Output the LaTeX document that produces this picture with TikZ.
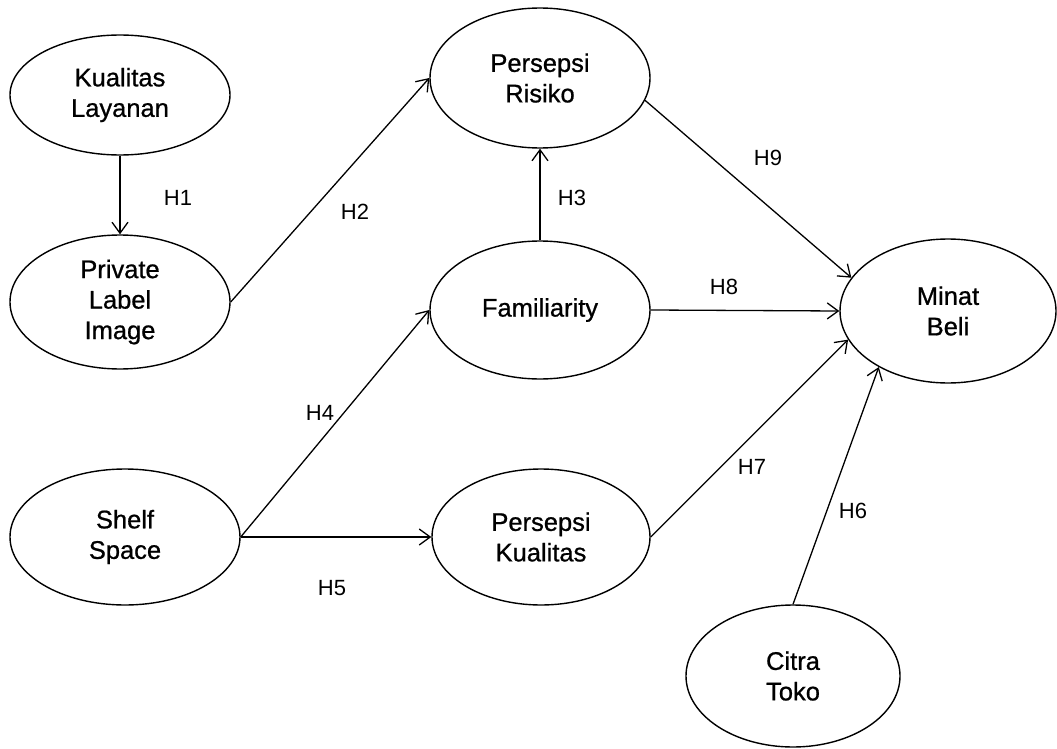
\documentclass[tikz,border=0pt]{standalone}
\usepackage{fontspec}
\setmainfont{Liberation Sans}
\newfontfamily\nodefont[FakeBold=0.8]{Liberation Sans}
\usetikzlibrary{shapes.geometric,arrows.meta}
\begin{document}
\begin{tikzpicture}[x=1pt,y=-1pt,
  var/.style={ellipse,draw,line width=1.4pt,inner sep=0pt,align=center,
    font=\nodefont\fontsize{25.5}{30.5}\selectfont},
  link/.style={draw,line width=1.3pt,-{Straight Barb[length=11pt,width=16pt,line width=1.3pt]}},
  hlab/.style={font=\fontsize{22}{26}\selectfont}]
\useasboundingbox (0,0) rectangle (1057,749);
\node[var,minimum width=220pt,minimum height=120pt] (kl) at (120,95) {Kualitas\\Layanan};
\node[var,minimum width=220pt,minimum height=134pt] (pli) at (120,302) {Private\\Label\\Image};
\node[var,minimum width=220pt,minimum height=140pt] (pr) at (540,78) {Persepsi\\Risiko};
\node[var,minimum width=220pt,minimum height=138pt] (fam) at (540,310) {Familiarity};
\node[var,minimum width=216pt,minimum height=144pt] (mb) at (948,311) {Minat\\Beli};
\node[var,minimum width=230pt,minimum height=136pt] (ss) at (125,537) {Shelf\\Space};
\node[var,minimum width=218pt,minimum height=136pt] (pk) at (541,537) {Persepsi\\Kualitas};
\node[var,minimum width=214pt,minimum height=142pt] (ct) at (793,676) {Citra\\Toko};
\draw[link] (kl.south) -- (pli.north);
\draw[link] (pli.east) -- (pr.west);
\draw[link] (fam.north) -- (pr.south);
\draw[link] (pr.-12) -- (mb.161);
\draw[link] (fam.east) -- (mb.west);
\draw[link] (ss.east) -- (fam.west);
\draw[link] (ss.east) -- (pk.west);
\draw[link] (pk.east) -- (mb.196);
\draw[link] (ct.north) -- (mb.219);
\node[hlab] (h1) at (178,198) {H1};
\node[hlab] (h2) at (355,212) {H2};
\node[hlab] (h3) at (572,198) {H3};
\node[hlab] (h4) at (320,413) {H4};
\node[hlab] (h5) at (332,588) {H5};
\node[hlab] (h6) at (853,511) {H6};
\node[hlab] (h7) at (752,467) {H7};
\node[hlab] (h8) at (724,287) {H8};
\node[hlab] (h9) at (768,158) {H9};
\end{tikzpicture}
\end{document}
